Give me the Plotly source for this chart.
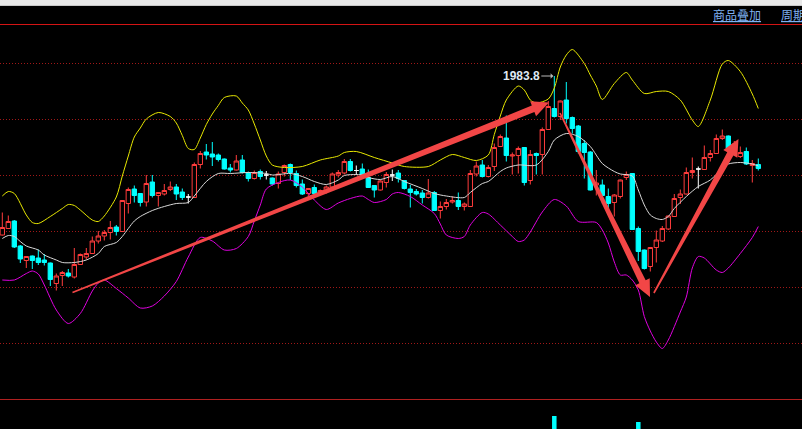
import plotly.graph_objects as go

# ---------------- data (bar index 0..126) ----------------
opens = [
    1952.0, 1953.3, 1954.8, 1949.8, 1946.9, 1947.8, 1947.4, 1947.0, 1946.4, 1942.3,
    1943.9, 1944.4, 1943.6, 1946.1, 1947.6, 1948.3, 1950.8, 1951.8, 1952.5, 1953.6,
    1952.7, 1958.3, 1961.2, 1960.3, 1958.6, 1962.6, 1959.9, 1960.2, 1961.1, 1961.6,
    1960.6, 1959.6, 1959.5, 1966.1, 1968.6, 1968.2, 1968.0, 1967.2, 1965.4, 1965.0,
    1967.0, 1964.5, 1963.3, 1964.7, 1964.0, 1963.4, 1962.3, 1964.5, 1966.1, 1964.3,
    1962.2, 1960.3, 1961.5, 1960.4, 1960.7, 1961.6, 1964.0, 1964.4, 1966.7, 1964.9,
    1965.2, 1963.5, 1961.9, 1961.0, 1962.5, 1964.0, 1964.4, 1962.9, 1961.2, 1960.7,
    1960.4, 1959.5, 1960.5, 1956.9, 1957.7, 1958.6, 1958.9, 1957.7, 1957.7, 1964.2,
    1966.0, 1963.7, 1965.7, 1969.7, 1971.4, 1967.8, 1967.9, 1969.5, 1962.9, 1968.3,
    1968.1, 1973.1, 1977.3, 1975.7, 1979.0, 1975.5, 1973.8, 1970.3, 1968.6, 1962.0,
    1962.0, 1959.7, 1958.5, 1959.7, 1963.5, 1964.3, 1953.3, 1949.0, 1945.7, 1949.5,
    1950.8, 1953.2, 1955.7, 1959.5, 1960.2, 1964.5, 1965.2, 1965.1, 1967.5, 1968.3,
    1971.3, 1971.8, 1969.0, 1967.7, 1968.7, 1965.9, 1966.1,
]
highs = [
    1956.5, 1955.9, 1955.0, 1950.0, 1947.8, 1947.9, 1949.1, 1948.2, 1946.5, 1944.3,
    1944.8, 1945.2, 1949.4, 1948.3, 1949.4, 1951.7, 1952.8, 1953.0, 1954.8, 1954.0,
    1959.0, 1961.5, 1961.9, 1960.4, 1964.0, 1964.0, 1960.6, 1962.2, 1962.7, 1962.2,
    1961.3, 1960.2, 1966.5, 1968.8, 1970.2, 1970.6, 1968.3, 1967.3, 1966.2, 1968.0,
    1968.0, 1964.7, 1964.9, 1965.1, 1964.8, 1963.5, 1964.7, 1966.1, 1966.3, 1964.9,
    1963.1, 1961.4, 1962.1, 1961.1, 1961.9, 1964.5, 1965.0, 1967.2, 1967.2, 1965.9,
    1966.3, 1965.1, 1962.0, 1963.0, 1964.6, 1965.1, 1965.0, 1963.0, 1962.0, 1961.2,
    1961.0, 1963.2, 1960.8, 1958.7, 1959.2, 1959.7, 1960.5, 1958.5, 1965.0, 1966.7,
    1967.0, 1966.0, 1970.3, 1972.1, 1975.9, 1968.5, 1969.7, 1969.6, 1969.0, 1968.5,
    1973.5, 1978.8, 1983.8, 1978.9, 1982.6, 1975.7, 1974.0, 1971.0, 1968.8, 1965.0,
    1963.1, 1961.3, 1960.2, 1963.1, 1964.7, 1964.4, 1953.7, 1949.1, 1949.6, 1952.9,
    1953.8, 1955.9, 1960.2, 1961.1, 1965.5, 1967.5, 1965.7, 1969.9, 1969.0, 1972.1,
    1973.1, 1971.9, 1970.8, 1969.7, 1969.5, 1967.0, 1967.3,
]
lows = [
    1951.9, 1953.2, 1949.4, 1946.4, 1945.4, 1945.2, 1946.0, 1945.9, 1941.8, 1940.9,
    1941.8, 1943.5, 1943.3, 1946.0, 1947.1, 1948.2, 1950.3, 1950.9, 1951.1, 1951.9,
    1952.6, 1956.3, 1958.5, 1957.7, 1957.7, 1959.5, 1957.7, 1959.9, 1960.8, 1959.0,
    1959.0, 1958.3, 1959.5, 1965.3, 1967.1, 1965.8, 1966.7, 1965.1, 1964.5, 1964.9,
    1964.3, 1962.7, 1963.1, 1963.1, 1963.1, 1961.9, 1961.3, 1963.7, 1963.0, 1961.5,
    1960.0, 1959.7, 1960.1, 1960.2, 1960.3, 1961.3, 1963.5, 1964.1, 1964.7, 1964.1,
    1963.5, 1961.4, 1959.5, 1960.9, 1961.5, 1962.8, 1962.5, 1961.1, 1957.5, 1959.9,
    1958.3, 1959.3, 1956.8, 1955.3, 1957.1, 1958.3, 1957.0, 1956.9, 1957.6, 1963.7,
    1963.5, 1963.5, 1964.8, 1969.6, 1966.7, 1964.1, 1964.3, 1961.9, 1962.1, 1964.1,
    1964.1, 1973.0, 1975.5, 1975.0, 1974.3, 1972.3, 1968.3, 1963.3, 1960.9, 1959.9,
    1958.3, 1957.0, 1955.7, 1959.3, 1963.0, 1953.0, 1946.8, 1945.1, 1944.7, 1946.5,
    1950.6, 1953.0, 1955.6, 1958.2, 1960.1, 1963.3, 1961.3, 1965.0, 1966.7, 1968.2,
    1971.0, 1968.5, 1968.6, 1967.4, 1966.0, 1962.5, 1964.9,
]
closes = [
    1953.5, 1954.7, 1949.6, 1947.2, 1947.7, 1946.9, 1946.5, 1946.5, 1943.1, 1943.8,
    1944.5, 1943.8, 1946.1, 1948.1, 1948.3, 1950.8, 1951.8, 1952.5, 1953.5, 1952.7,
    1958.9, 1961.1, 1959.9, 1958.5, 1962.3, 1959.9, 1960.5, 1960.9, 1961.6, 1960.2,
    1959.5, 1959.6, 1966.1, 1968.3, 1968.0, 1967.6, 1967.1, 1965.2, 1965.0, 1966.8,
    1964.5, 1963.3, 1964.5, 1963.7, 1964.0, 1962.2, 1964.2, 1965.9, 1964.5, 1961.9,
    1960.2, 1961.3, 1960.3, 1960.9, 1961.6, 1964.2, 1964.5, 1966.7, 1964.9, 1964.9,
    1964.0, 1961.5, 1961.0, 1962.8, 1964.1, 1964.0, 1963.3, 1961.3, 1960.5, 1960.2,
    1959.5, 1960.4, 1956.9, 1957.7, 1958.5, 1958.9, 1957.7, 1958.2, 1964.3, 1965.8,
    1963.7, 1965.5, 1969.5, 1971.7, 1967.9, 1968.0, 1969.3, 1962.5, 1968.1, 1967.9,
    1973.1, 1977.7, 1975.7, 1978.8, 1975.3, 1973.3, 1968.7, 1968.5, 1961.0, 1962.4,
    1959.9, 1958.3, 1960.0, 1963.0, 1964.1, 1953.1, 1948.7, 1945.3, 1949.5, 1951.0,
    1953.3, 1955.8, 1959.3, 1960.2, 1964.5, 1964.9, 1965.2, 1967.5, 1968.3, 1971.3,
    1971.8, 1969.3, 1970.2, 1968.5, 1966.2, 1966.3, 1965.3,
]

# Bollinger bands (bar index -> price)
mid_idx = [0, 1, 2, 3, 4, 6, 7, 9, 10, 12,
           14, 16, 17, 19, 20, 21, 22, 23, 25, 27,
           29, 31, 32, 34, 36, 38, 41, 44, 45, 48,
           50, 52, 54, 56, 57, 60, 61, 63, 65, 67,
           70, 72, 74, 77, 78, 80, 81, 83, 84, 86,
           89, 91, 92, 94, 96, 98, 100, 102, 103, 105,
           106, 107, 108, 109, 110, 111, 112, 114, 116, 118,
           120, 121, 123, 125, 126]
mid_val = [1951.3, 1951.9, 1951.7, 1950.7, 1949.8, 1949.0, 1948.0, 1947.0, 1946.5, 1946.5,
           1947.0, 1948.3, 1949.7, 1950.5, 1951.7, 1953.3, 1954.8, 1955.7, 1956.9, 1957.7,
           1958.3, 1958.5, 1959.8, 1962.7, 1964.3, 1964.3, 1964.5, 1964.3, 1964.0, 1964.3,
           1963.7, 1962.7, 1962.1, 1963.0, 1963.9, 1964.0, 1963.5, 1963.1, 1963.7, 1962.7,
           1961.3, 1960.3, 1959.8, 1959.5, 1960.5, 1962.3, 1962.7, 1964.7, 1965.4, 1966.0,
           1966.0, 1968.7, 1971.0, 1972.3, 1971.7, 1969.7, 1966.3, 1964.7, 1964.2, 1963.8,
           1961.0, 1958.0, 1956.0, 1955.3, 1955.1, 1955.7, 1957.3, 1959.7, 1961.7, 1963.0,
           1965.3, 1966.2, 1966.5, 1966.2, 1965.8]

up_idx = [0, 1, 2, 4, 5, 6, 8, 10, 11, 12,
          13, 15, 16, 17, 19, 20, 21, 22, 23, 24,
          26, 28, 29, 30, 31, 32, 33, 34, 35, 36,
          37, 39, 40, 41, 42, 43, 44, 45, 47, 50,
          53, 56, 57, 59, 62, 65, 67, 71, 73, 75,
          77, 79, 81, 82, 83, 84, 86, 87, 88, 89,
          91, 92, 93, 94, 95, 97, 98, 99, 100, 102,
          104, 105, 107, 109, 111, 113, 115, 116, 118, 120,
          121, 123, 125, 126]
up_val = [1959.8, 1960.7, 1960.3, 1956.0, 1954.5, 1954.3, 1955.7, 1957.3, 1958.1, 1957.9,
          1957.0, 1955.0, 1954.7, 1955.8, 1959.6, 1963.8, 1967.8, 1971.6, 1973.4, 1975.2,
          1976.5, 1975.7, 1974.4, 1971.9, 1969.3, 1969.1, 1971.4, 1974.1, 1976.2, 1977.9,
          1979.5, 1979.8, 1978.4, 1977.0, 1974.2, 1971.0, 1967.8, 1966.0, 1965.5, 1965.7,
          1967.0, 1967.8, 1968.5, 1968.7, 1967.5, 1966.4, 1965.7, 1965.7, 1967.0, 1968.1,
          1967.5, 1966.9, 1968.0, 1972.1, 1975.8, 1979.0, 1981.8, 1981.0, 1979.0, 1978.4,
          1979.2, 1981.4, 1985.6, 1988.0, 1989.1, 1986.3, 1984.0, 1981.8, 1979.1, 1982.3,
          1984.5, 1983.0, 1980.3, 1980.7, 1980.7, 1979.0, 1975.0, 1973.7, 1979.0, 1986.2,
          1986.9, 1984.7, 1980.2, 1977.3]

low_idx = [0, 2, 4, 5, 6, 7, 9, 11, 13, 15,
           16, 17, 19, 21, 23, 25, 27, 29, 31, 33,
           35, 37, 39, 41, 42, 43, 44, 46, 48, 50,
           52, 54, 56, 58, 60, 61, 62, 64, 65, 66,
           68, 70, 72, 73, 74, 76, 77, 78, 80, 81,
           83, 85, 86, 87, 88, 90, 92, 94, 96, 99,
           100, 101, 102, 103, 104, 105, 106, 107, 108, 109,
           110, 111, 113, 114, 115, 116, 117, 119, 120, 121,
           123, 125, 126]
low_val = [1943.0, 1943.0, 1944.3, 1944.8, 1944.2, 1942.0, 1937.0, 1934.3, 1936.3, 1940.8,
           1942.4, 1943.0, 1941.3, 1939.4, 1937.4, 1937.8, 1939.8, 1942.7, 1947.6, 1951.5,
           1950.8, 1949.0, 1949.3, 1951.7, 1954.8, 1958.0, 1961.2, 1962.5, 1963.0, 1961.6,
           1959.0, 1957.1, 1958.4, 1959.3, 1959.8, 1959.1, 1958.5, 1959.1, 1960.2, 1960.5,
           1959.7, 1958.0, 1956.3, 1954.2, 1952.0, 1951.3, 1951.7, 1954.0, 1956.5, 1956.2,
           1954.0, 1951.7, 1950.7, 1951.0, 1952.6, 1956.6, 1959.1, 1957.8, 1954.7, 1954.5,
           1953.0, 1950.4, 1946.6, 1944.0, 1944.0, 1943.0, 1941.0, 1935.7, 1932.8, 1930.6,
           1929.3, 1931.0, 1936.6, 1939.6, 1945.4, 1947.7, 1947.4, 1945.0, 1944.5, 1945.4,
           1948.3, 1951.5, 1953.7]

vol_idx = [92, 106]
vol_val = [13, 7]

peak_idx = 92
peak_text = "1983.8"
grid_prices = [1930.4, 1941.6, 1952.8, 1964.0, 1975.2, 1986.4]
menu_labels = ["商品叠加", "周期"]

# hand-drawn trend arrows: (tail bar, tail price) -> (tip bar, tip price)
trend_arrows = [
    ((11.7, 1940.5), (91.1, 1978.5)),
    ((92.95, 1976.4), (107.95, 1939.6)),
    ((108.6, 1940.4), (122.7, 1971.2)),
]

# ---------------- geometry ----------------
W, H = 802, 429
BAR_PX = 6.0
X0_PX = 2.3
PX_PER_UNIT = 5.0
P_TOP = 1999.0

x_range = [-X0_PX / BAR_PX, (W - X0_PX) / BAR_PX]
y_range = [P_TOP - H / PX_PER_UNIT, P_TOP]


def to_px(i, p):
    return X0_PX + BAR_PX * i, (P_TOP - p) * PX_PER_UNIT


def to_data(px, py):
    return (px - X0_PX) / BAR_PX, P_TOP - py / PX_PER_UNIT


def arrow_path(tail, tip, w0=1.6, w1=7.0, hw=16.0, hl=17.0):
    tx, ty = to_px(*tail)
    hx, hy = to_px(*tip)
    dx, dy = hx - tx, hy - ty
    L = (dx * dx + dy * dy) ** 0.5
    ux, uy = dx / L, dy / L
    nx, ny = -uy, ux
    bx, by = hx - ux * hl, hy - uy * hl
    pts = [
        (tx + nx * w0 / 2, ty + ny * w0 / 2),
        (bx + nx * w1 / 2, by + ny * w1 / 2),
        (bx + nx * hw / 2, by + ny * hw / 2),
        (hx, hy),
        (bx - nx * hw / 2, by - ny * hw / 2),
        (bx - nx * w1 / 2, by - ny * w1 / 2),
        (tx - nx * w0 / 2, ty - ny * w0 / 2),
    ]
    d = [to_data(*p) for p in pts]
    return "M " + " L ".join(f"{a:.4f},{b:.4f}" for a, b in d) + " Z"


n = len(opens)
norm = [i for i in range(n) if opens[i] != closes[i]]
doji = [i for i in range(n) if opens[i] == closes[i]]

fig = go.Figure()

fig.add_trace(go.Candlestick(
    x=norm,
    open=[opens[i] for i in norm], high=[highs[i] for i in norm],
    low=[lows[i] for i in norm], close=[closes[i] for i in norm],
    increasing=dict(line=dict(color="#ff3c3c", width=1), fillcolor="#000000"),
    decreasing=dict(line=dict(color="#00ffff", width=1), fillcolor="#00ffff"),
    whiskerwidth=0, hoverinfo="skip",
))
fig.add_trace(go.Candlestick(
    x=doji,
    open=[opens[i] for i in doji], high=[highs[i] for i in doji],
    low=[lows[i] for i in doji], close=[closes[i] for i in doji],
    increasing=dict(line=dict(color="#ffffff", width=1), fillcolor="#ffffff"),
    decreasing=dict(line=dict(color="#ffffff", width=1), fillcolor="#ffffff"),
    whiskerwidth=0, hoverinfo="skip",
))

fig.add_trace(go.Scatter(x=up_idx, y=up_val, mode="lines",
                         line=dict(color="#e8e800", width=1, shape="spline", smoothing=0.8),
                         hoverinfo="skip"))
fig.add_trace(go.Scatter(x=low_idx, y=low_val, mode="lines",
                         line=dict(color="#e000e0", width=1, shape="spline", smoothing=0.8),
                         hoverinfo="skip"))
fig.add_trace(go.Scatter(x=mid_idx, y=mid_val, mode="lines",
                         line=dict(color="#d8d8d8", width=1, shape="spline", smoothing=0.8),
                         hoverinfo="skip"))

fig.add_trace(go.Bar(x=vol_idx, y=vol_val, yaxis="y2", width=0.75,
                     marker=dict(color="#00ffff", line=dict(width=0)), hoverinfo="skip"))

shapes = []
# top grey strip
shapes.append(dict(type="rect", xref="paper", yref="paper", x0=0, x1=1,
                   y0=1 - 5 / H, y1=1, fillcolor="#e8e8e8", line=dict(width=0), layer="above"))
shapes.append(dict(type="line", xref="paper", yref="paper", x0=0, x1=1,
                   y0=1 - 5.5 / H, y1=1 - 5.5 / H, line=dict(color="#c8c8c8", width=1), layer="above"))
# panel separators
shapes.append(dict(type="line", xref="paper", yref="paper", x0=0, x1=1,
                   y0=1 - 24.5 / H, y1=1 - 24.5 / H, line=dict(color="#d41414", width=1.2), layer="above"))
shapes.append(dict(type="line", xref="paper", yref="paper", x0=0, x1=1,
                   y0=1 - 399.5 / H, y1=1 - 399.5 / H, line=dict(color="#b02020", width=1.2), layer="above"))
for tail, tip in trend_arrows:
    shapes.append(dict(type="path", xref="x", yref="y", path=arrow_path(tail, tip),
                       fillcolor="#f24646", line=dict(width=0), layer="above"))

annotations = [
    dict(x=peak_idx, y=highs[peak_idx], xref="x", yref="y", text=f"<b>{peak_text}</b>",
         showarrow=True, ax=-33, ay=0, arrowhead=1, arrowsize=0.9, arrowwidth=1,
         arrowcolor="#b8b8b8", standoff=1,
         font=dict(family="Liberation Sans, Arial", size=12, color="#dfe8f2")),
    dict(x=711 / W, y=1 - 14.5 / H, xref="paper", yref="paper", xanchor="left", yanchor="middle",
         text=f"<u>{menu_labels[0]}</u>", showarrow=False,
         font=dict(family="Noto Sans CJK SC", size=12, color="#7fb0f0")),
    dict(x=779 / W, y=1 - 14.5 / H, xref="paper", yref="paper", xanchor="left", yanchor="middle",
         text=f"<u>{menu_labels[1]}</u>", showarrow=False,
         font=dict(family="Noto Sans CJK SC", size=12, color="#7fb0f0")),
]

fig.update_layout(
    width=W, height=H,
    margin=dict(l=0, r=0, t=0, b=0, pad=0),
    paper_bgcolor="#000000", plot_bgcolor="#000000",
    showlegend=False,
    boxgap=0.15, boxgroupgap=0.15,
    xaxis=dict(range=x_range, showgrid=False, zeroline=False, showticklabels=False,
               ticks="", showline=False, rangeslider=dict(visible=False), fixedrange=True),
    yaxis=dict(range=y_range, domain=[0, 1], tickvals=grid_prices, showgrid=True,
               gridcolor="#a01818", griddash="1px,2px", gridwidth=1, zeroline=False,
               showticklabels=False, ticks="", showline=False, fixedrange=True),
    yaxis2=dict(range=[0, 29], domain=[0, 29 / H], anchor="x", visible=False,
                showgrid=False, zeroline=False, fixedrange=True),
    shapes=shapes,
    annotations=annotations,
    hovermode=False,
)

fig.write_html(
    "out.html",
    config={"displayModeBar": False},
    post_script="document.body.style.margin='0';document.body.style.padding='0';"
                "document.body.style.overflow='hidden';document.body.style.background='#000';",
)
